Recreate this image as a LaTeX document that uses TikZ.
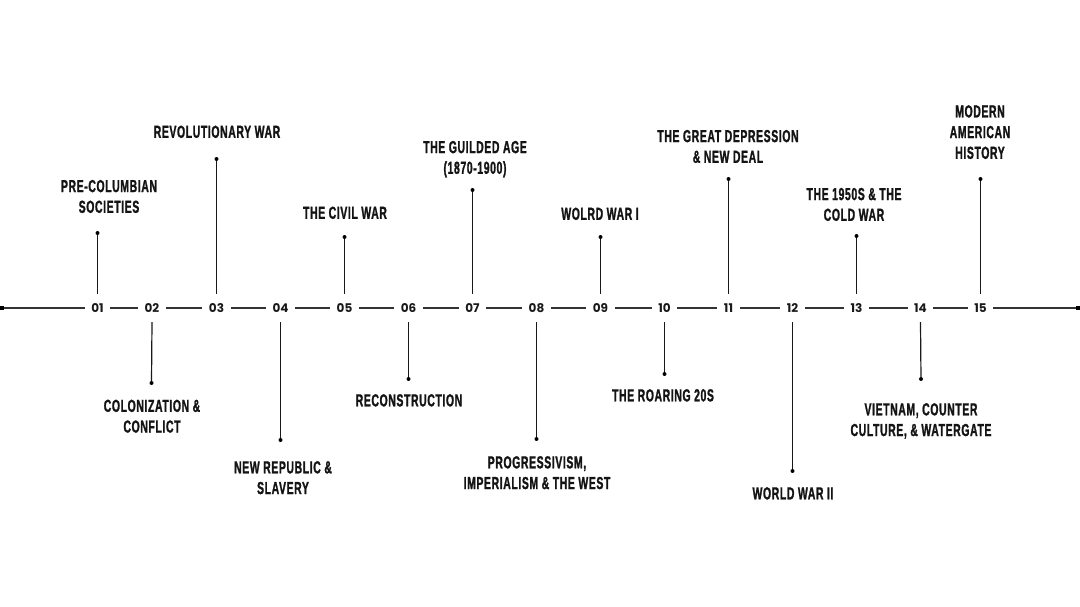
\documentclass[tikz,border=0pt]{standalone}
\usepackage{fontspec}
\newfontfamily\lblfont{Liberation Sans}[UprightFont=* Bold, FakeStretch=0.6, FakeBold=1.2, LetterSpace=3.5]
\newfontfamily\numfont{Poppins}[UprightFont=* Bold]
\begin{document}
\begin{tikzpicture}[x=1pt,y=-1pt,
  axisline/.style={draw=black!80, line width=1.1pt},
  stem/.style={draw=black!90, line width=1.2pt},
  endsq/.style={rectangle, fill=black, inner sep=0pt, minimum size=4pt},
  num/.style={fill=white, inner sep=0pt, inner xsep=6.5pt, minimum height=28pt, font=\numfont\fontsize{12}{12}\selectfont, text=black!90},
  dotp/.style={circle, fill=black, inner sep=0pt, minimum size=4pt},
  uplbl/.style={anchor=south, inner sep=0pt, align=center, text depth=0pt, font=\lblfont\fontsize{17.4}{20.7}\selectfont, text=black!92},
  dnlbl/.style={anchor=north, inner sep=0pt, align=center, font=\lblfont\fontsize{17.4}{20.7}\selectfont, text=black!92}
]
\useasboundingbox[fill=white] (0,0) rectangle (1080,607);
\node[endsq] (L) at (2,308) {};
\node[endsq] (R) at (1078,308) {};
\draw[axisline] (L) -- (R);
% numbers
\node[num] (n01) at (97.5,308) {01};
\node[num] (n02) at (152,308) {02};
\node[num] (n03) at (216.5,308) {03};
\node[num] (n04) at (280.5,308) {04};
\node[num] (n05) at (344.5,308) {05};
\node[num] (n06) at (408.5,308) {06};
\node[num] (n07) at (472.5,308) {07};
\node[num] (n08) at (536.5,308) {08};
\node[num] (n09) at (600.5,308) {09};
\node[num] (n10) at (664.5,308) {10};
\node[num] (n11) at (728.5,308) {11};
\node[num] (n12) at (792.5,308) {12};
\node[num] (n13) at (856.5,308) {13};
\node[num] (n14) at (920.5,308) {14};
\node[num] (n15) at (980.5,308) {15};
% dots
\node[dotp] (d01) at (97.5,233) {};
\node[dotp] (d02) at (151.5,383) {};
\node[dotp] (d03) at (216.5,159) {};
\node[dotp] (d04) at (280.5,440) {};
\node[dotp] (d05) at (344.5,237) {};
\node[dotp] (d06) at (408.5,379) {};
\node[dotp] (d07) at (472.5,190) {};
\node[dotp] (d08) at (536.5,439) {};
\node[dotp] (d09) at (600.5,237) {};
\node[dotp] (d10) at (664.5,374) {};
\node[dotp] (d11) at (728.5,179) {};
\node[dotp] (d12) at (792.5,471) {};
\node[dotp] (d13) at (856.5,236) {};
\node[dotp] (d14) at (921,379) {};
\node[dotp] (d15) at (980.5,179) {};
% stems
\draw[stem] (n01.north) -- (d01);
\draw[stem] (n02.south) -- (d02);
\draw[stem] (n03.north) -- (d03);
\draw[stem] (n04.south) -- (d04);
\draw[stem] (n05.north) -- (d05);
\draw[stem] (n06.south) -- (d06);
\draw[stem] (n07.north) -- (d07);
\draw[stem] (n08.south) -- (d08);
\draw[stem] (n09.north) -- (d09);
\draw[stem] (n10.south) -- (d10);
\draw[stem] (n11.north) -- (d11);
\draw[stem] (n12.south) -- (d12);
\draw[stem] (n13.north) -- (d13);
\draw[stem] (n14.south) -- (d14);
\draw[stem] (n15.north) -- (d15);
% labels above
\node[uplbl] (l01) at (109,213) {PRE-COLUMBIAN\\SOCIETIES};
\node[uplbl] (l03) at (217,138) {REVOLUTIONARY WAR};
\node[uplbl] (l05) at (345,219) {THE CIVIL WAR};
\node[uplbl] (l07) at (475,174) {THE GUILDED AGE\\(1870-1900)};
\node[uplbl] (l09) at (600,220) {WOLRD WAR I};
\node[uplbl] (l11) at (728,163) {THE GREAT DEPRESSION\\\& NEW DEAL};
\node[uplbl] (l13) at (854,221) {THE 1950S \& THE\\COLD WAR};
\node[uplbl] (l15) at (980,159) {MODERN\\AMERICAN\\HISTORY};
% labels below
\node[dnlbl] (l02) at (152,399.5) {COLONIZATION \&\\CONFLICT};
\node[dnlbl] (l04) at (283,461) {NEW REPUBLIC \&\\SLAVERY};
\node[dnlbl] (l06) at (409,394) {RECONSTRUCTION};
\node[dnlbl] (l08) at (537,456) {PROGRESSIVISM,\\IMPERIALISM \& THE WEST};
\node[dnlbl] (l10) at (663,389) {THE ROARING 20S};
\node[dnlbl] (l12) at (793,487) {WORLD WAR II};
\node[dnlbl] (l14) at (921,403) {VIETNAM, COUNTER\\CULTURE, \& WATERGATE};
\end{tikzpicture}
\end{document}
